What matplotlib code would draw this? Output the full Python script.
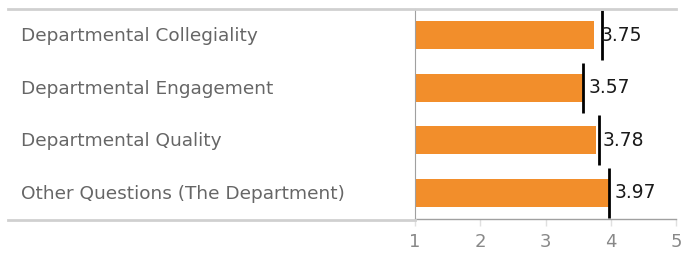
import matplotlib.pyplot as plt
import matplotlib.transforms as mtransforms
from matplotlib.lines import Line2D

categories = [
    "Departmental Collegiality",
    "Departmental Engagement",
    "Departmental Quality",
    "Other Questions (The Department)",
]
scores = [3.75, 3.57, 3.78, 3.97]
benchmarks = [3.87, 3.58, 3.82, 3.98]
x_ticks = [1, 2, 3, 4, 5]

ORANGE = "#F28E2B"
W, H = 690, 256

plt.rcParams["font.family"] = ["DejaVu Sans"]


def main():
    fig = plt.figure(figsize=(W / 100, H / 100), dpi=100)
    ax = fig.add_axes([415 / W, 1 - 219 / H, (676 - 415) / W, (219 - 9) / H])

    rows = list(range(len(categories)))
    ax.barh(rows, scores, height=0.53, color=ORANGE, zorder=2)
    ax.vlines(benchmarks, [r - 0.48 for r in rows], [r + 0.48 for r in rows],
              color="black", linewidth=2.0, zorder=3)

    for r, v in zip(rows, scores):
        ax.annotate(f"{v:.2f}", (v, r), xytext=(4.5, 0), textcoords="offset points",
                    va="center", ha="left", fontsize=13.5, color="#1a1a1a", zorder=4)

    ax.set_xlim(1, 5)
    ax.set_ylim(len(categories) - 0.5, -0.5)
    ax.set_yticks([])
    ax.set_xticks(x_ticks)
    ax.set_xticklabels([str(t) for t in x_ticks])
    ax.tick_params(axis="x", length=5, width=1, color="#e0e0e0", pad=5,
                   labelsize=13, labelcolor="#888888")

    for side in ["top", "right"]:
        ax.spines[side].set_visible(False)
    ax.spines["left"].set_color("#a0a0a0")
    ax.spines["left"].set_linewidth(0.8)
    ax.spines["bottom"].set_color("#a0a0a0")
    ax.spines["bottom"].set_linewidth(1.0)

    # header lines spanning the row labels
    top_y = 1 - 8.5 / H
    bot_y = 1 - 219.5 / H
    fig.add_artist(Line2D([8 / W, 676 / W], [top_y, top_y], color="#d0d0d0",
                          linewidth=2.0, transform=fig.transFigure))
    fig.add_artist(Line2D([8 / W, 415 / W], [bot_y, bot_y], color="#d0d0d0",
                          linewidth=2.0, transform=fig.transFigure))

    trans = mtransforms.blended_transform_factory(fig.transFigure, ax.transData)
    for r, name in zip(rows, categories):
        ax.text(21 / W, r + 0.02, name, transform=trans, ha="left", va="center",
                fontsize=13.3, color="#666666", clip_on=False)

    fig.savefig("out.png", dpi=100)


if __name__ == "__main__":
    main()
